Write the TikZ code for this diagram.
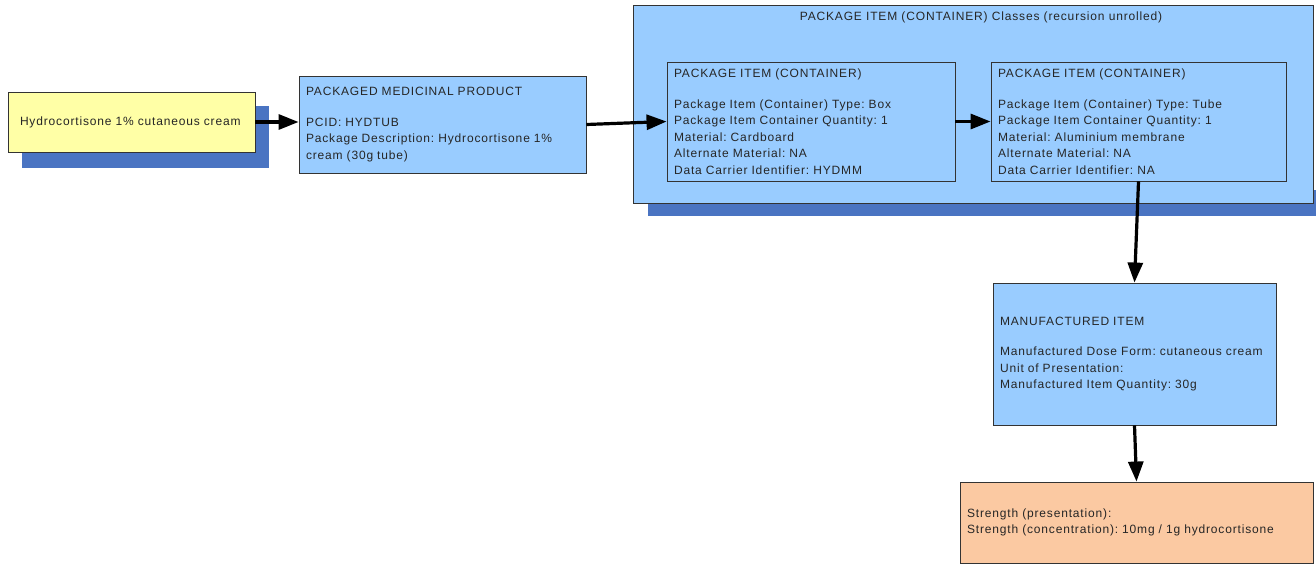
\documentclass[tikz,border=0pt]{standalone}
\usepackage{fontspec}
\setmainfont{Liberation Sans}[LetterSpace=7]
\usetikzlibrary{arrows.meta}
\definecolor{lblue}{HTML}{99CCFF}
\definecolor{shblue}{HTML}{4A74C2}
\definecolor{lyellow}{HTML}{FFFFA6}
\definecolor{peach}{HTML}{FBC9A2}
\definecolor{edge}{HTML}{333333}
\tikzset{
  box/.style={draw=edge, line width=0.9pt, inner xsep=7pt, inner ysep=0pt, align=left,
    font=\fontsize{12}{16.5}\selectfont, text=black!85},
  conn/.style={line width=3.2pt, -{Triangle[length=20pt,width=15pt]}},
}
\begin{document}
\frenchspacing
\begin{tikzpicture}[x=1pt,y=-1pt]
\useasboundingbox (0,0) rectangle (1316,565);
% shadows
\fill[shblue] (22,106) rectangle (269,168);
\fill[shblue] (648,190) rectangle (1316,216);
% nodes
\node[box, fill=lyellow, minimum width=247pt, minimum height=60pt, inner xsep=12pt, text width=223pt] (hc) at (131.5,122) {Hydrocortisone 1\% cutaneous cream};
\node[box, fill=lblue, minimum width=287pt, minimum height=97pt, text width=273pt] (pmp) at (442.5,124.5)
  {PACKAGED MEDICINAL PRODUCT\\[14pt]PCID: HYDTUB\\Package Description: Hydrocortisone 1\%\\cream (30g tube)};
\node[box, fill=lblue, minimum width=680pt, minimum height=198pt] (cont) at (973,104) {};
\node[anchor=north, font=\fontsize{12}{16.5}\selectfont, text=black!85, inner sep=0pt] (conttitle) at ([xshift=8pt]cont.north |- 0,12) {PACKAGE ITEM (CONTAINER) Classes (recursion unrolled)};
\node[box, fill=lblue, minimum width=288pt, minimum height=119pt, text width=274pt] (c1) at (811,121.5)
  {PACKAGE ITEM (CONTAINER)\\[14pt]Package Item (Container) Type: Box\\Package Item Container Quantity: 1\\Material: Cardboard\\Alternate Material: NA\\Data Carrier Identifier: HYDMM};
\node[box, fill=lblue, minimum width=295pt, minimum height=119pt, text width=281pt] (c2) at (1138.5,121.5)
  {PACKAGE ITEM (CONTAINER)\\[14pt]Package Item (Container) Type: Tube\\Package Item Container Quantity: 1\\Material: Aluminium membrane\\Alternate Material: NA\\Data Carrier Identifier: NA};
\node[box, fill=lblue, minimum width=283pt, minimum height=142pt, text width=269pt] (mi) at (1134.5,354)
  {MANUFACTURED ITEM\\[14pt]Manufactured Dose Form: cutaneous cream\\Unit of Presentation:\\Manufactured Item Quantity: 30g};
\node[box, fill=peach, minimum width=353pt, minimum height=81pt, text width=339pt] (st) at (1136.5,522.5)
  {Strength (presentation):\\Strength (concentration): 10mg / 1g hydrocortisone};
% connectors
\draw[conn] (hc.east) -- (hc.east -| pmp.west);
\draw[conn] (pmp.east) -- (c1.west);
\draw[conn] (c1.east) -- (c2.west);
\draw[conn] (c2.south) -- (mi.north);
\draw[conn] (mi.south) -- (st.north);
\end{tikzpicture}
\end{document}
